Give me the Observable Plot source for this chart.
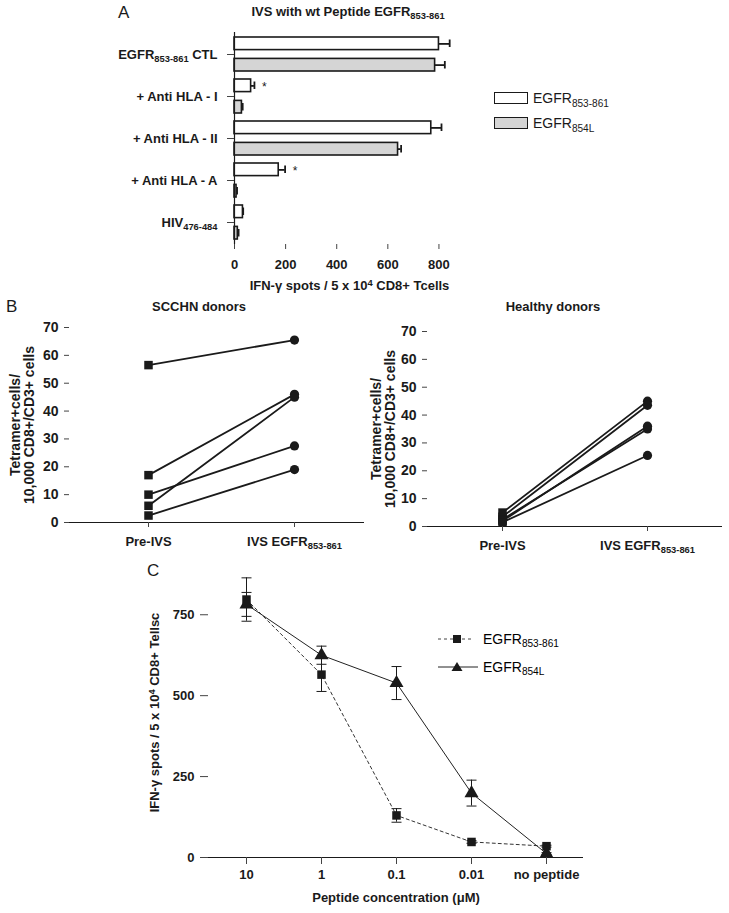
<!DOCTYPE html>
<html><head><meta charset="utf-8">
<script src="https://cdn.jsdelivr.net/npm/d3@7"></script>
<script src="https://cdn.jsdelivr.net/npm/@observablehq/plot@0.6"></script>
<style>
body{margin:0;background:#fff;}
#fig{position:relative;width:729px;height:913px;overflow:hidden;font-family:"Liberation Sans",Arial,Helvetica,sans-serif;color:#1a1a1a;}
#fig > *{position:absolute;}
.plab{font-size:17px;font-weight:normal;}
.title{font-size:13px;font-weight:bold;text-align:center;width:300px;white-space:nowrap;}
sub{font-size:0.72em;vertical-align:-0.35em;line-height:0;}
</style></head><body><div id="fig"></div>
<script>
// ---------- Panel A data ----------
const catsA = ["EGFR_{853-861} CTL", "+ Anti HLA - I", "+ Anti HLA - II", "+ Anti HLA - A", "HIV_{476-484}"];
const wtVals = [800, 65, 770, 173, 33];
const wtErr  = [42, 13, 40, 25, 1];
const mutVals = [785, 29, 640, 8, 13];
const mutErr  = [38, 3, 12, 2, 3];
const sigA = [false, true, false, true, false];
const ticksA = [0, 200, 400, 600, 800];

// ---------- Panel B data ----------
const stagesB = ["Pre-IVS", "IVS EGFR_{853-861}"];
const sccPre  = [56.5, 17, 10, 6, 2.5];
const sccPost = [65.5, 46, 27.5, 45, 19];
const hlthPre  = [5, 3.5, 2.5, 2, 1.5];
const hlthPost = [45, 43.5, 35, 36, 25.5];
const ticksB = [0, 10, 20, 30, 40, 50, 60, 70];

// ---------- Panel C data ----------
const concC = ["10", "1", "0.1", "0.01", "no peptide"];
const wtC    = [797, 565, 130, 48, 35];
const wtCErr = [67, 52, 21, 4, 3];
const mutC    = [782, 625, 539, 199, 12];
const mutCErr = [37, 28, 51, 40, 3];
const ticksC = [0, 250, 500, 750];

const INK = "#1a1a1a";
const FONT = "Liberation Sans, Arial, Helvetica, sans-serif";
const fig = document.getElementById("fig");

function subify(root){
  const walker = document.createTreeWalker(root, NodeFilter.SHOW_TEXT);
  const nodes = []; while (walker.nextNode()) nodes.push(walker.currentNode);
  for (const n of nodes) {
    const s = n.nodeValue; if (!/[_^]\{/.test(s)) continue;
    const frag = document.createDocumentFragment();
    const re = /([_^])\{([^}]*)\}/g; let last = 0, m;
    while ((m = re.exec(s))) {
      if (m.index > last) frag.appendChild(document.createTextNode(s.slice(last, m.index)));
      const t = document.createElementNS("http://www.w3.org/2000/svg", "tspan");
      t.setAttribute("font-size", "0.72em");
      t.setAttribute("baseline-shift", m[1] === "_" ? "-30%" : "40%");
      t.textContent = m[2]; frag.appendChild(t); last = re.lastIndex;
    }
    if (last < s.length) frag.appendChild(document.createTextNode(s.slice(last)));
    n.parentNode.replaceChild(frag, n);
  }
}
function place(el, left, top){ el.style.left = left + "px"; el.style.top = top + "px"; subify(el); fig.appendChild(el); }
function html(str, left, top, cls, extra){ const d = document.createElement("div"); d.className = cls || ""; d.innerHTML = str; if (extra) Object.assign(d.style, extra); d.style.left = left + "px"; d.style.top = top + "px"; fig.appendChild(d); return d; }
const style = {fontFamily: FONT, fontSize: "13px", fontWeight: "bold", color: INK, background: "transparent", overflow: "visible"};
// horizontal cap symbol for error bars
const capSymbol = {draw(ctx){ ctx.moveTo(-5, 0); ctx.lineTo(5, 0); }};

// ---------- Panel A ----------
const rowsA = catsA.map((c, i) => ({cat: c, wt: wtVals[i], wtE: wtErr[i], mut: mutVals[i], mutE: mutErr[i], sig: sigA[i]}));
const plotA = Plot.plot({
  width: 480, height: 300, marginLeft: 234, marginRight: 16, marginTop: 32, marginBottom: 56,
  style,
  x: {domain: [0, 900]},
  y: {domain: catsA, padding: 0},
  marks: [
    Plot.barX(rowsA, {y: "cat", x: "wt", fill: "#fff", stroke: INK, strokeWidth: 1.6, insetTop: 4, insetBottom: 25.4}),
    Plot.barX(rowsA, {y: "cat", x: "mut", fill: "#d5d5d5", stroke: INK, strokeWidth: 1.6, insetTop: 25.4, insetBottom: 4}),
    Plot.ruleY(rowsA, {y: "cat", x1: "wt", x2: d => d.wt + d.wtE, dy: -10.6, stroke: INK, strokeWidth: 1.8}),
    Plot.tickX(rowsA, {y: "cat", x: d => d.wt + d.wtE, insetTop: 6.5, insetBottom: 28, stroke: INK, strokeWidth: 1.8}),
    Plot.ruleY(rowsA, {y: "cat", x1: "mut", x2: d => d.mut + d.mutE, dy: 10.6, stroke: INK, strokeWidth: 1.8}),
    Plot.tickX(rowsA, {y: "cat", x: d => d.mut + d.mutE, insetTop: 28, insetBottom: 6.5, stroke: INK, strokeWidth: 1.8}),
    Plot.text(rowsA.filter(d => d.sig), {y: "cat", x: d => d.wt + d.wtE, text: () => "*", dx: 10, dy: -9, fontSize: 12, fontWeight: "normal", fill: INK}),
    Plot.ruleX([0], {stroke: INK, strokeWidth: 1.2}),
    Plot.axisY({tickSize: 7, tickPadding: 10, label: null, stroke: "#444"}),
    Plot.axisX({ticks: ticksA, tickSize: 5, tickPadding: 10, line: true, stroke: "#444",
      label: "IFN-γ spots / 5 x 10^{4} CD8+ Tcells", labelAnchor: "center", labelOffset: 45, labelArrow: "none"})
  ]
});
place(plotA, 0, 0);
html("A", 118, 3, "plab");
html("IVS with wt Peptide EGFR<sub>853-861</sub>", 348 - 150, 4, "title");
// legend A
html(`<div style="display:flex;align-items:center;gap:5px;font-size:14px;height:14px"><span style="display:inline-block;width:32px;height:10px;border:1.6px solid ${INK};background:#fff"></span><span>EGFR<sub>853-861</sub></span></div>
<div style="display:flex;align-items:center;gap:5px;font-size:14px;height:14px;margin-top:11px"><span style="display:inline-block;width:32px;height:10px;border:1.6px solid ${INK};background:#d5d5d5"></span><span>EGFR<sub>854L</sub></span></div>`, 494, 91, "");

// ---------- Panel B ----------
function panelB(pre, post, opts){
  const rows = [];
  pre.forEach((v, i) => { rows.push({donor: i, stage: stagesB[0], v}); rows.push({donor: i, stage: stagesB[1], v: post[i]}); });
  return Plot.plot({
    width: opts.width, height: 265, marginLeft: opts.ml, marginRight: opts.mr, marginTop: opts.mt, marginBottom: opts.mb,
    style,
    x: {type: "point", domain: stagesB, range: opts.range, padding: 0},
    y: {domain: [0, 70]},
    marks: [
      Plot.ruleY([0], {stroke: INK, strokeWidth: 1.2}),
      Plot.line(rows, {x: "stage", y: "v", z: "donor", stroke: INK, strokeWidth: 1.8}),
      Plot.dot(rows.filter(d => d.stage === stagesB[0]), {x: "stage", y: "v", symbol: "square", r: 4.8, fill: INK}),
      Plot.dot(rows.filter(d => d.stage === stagesB[1]), {x: "stage", y: "v", symbol: "circle", r: 4.6, fill: INK}),
      Plot.axisY({ticks: ticksB, tickSize: 5, tickPadding: 6, line: true, stroke: "#444", fontSize: 14,
        label: "Tetramer+cells/\n10,000 CD8+/CD3+ cells", labelAnchor: "center", labelOffset: opts.lo, labelArrow: "none"}),
      Plot.axisX({tickSize: 5, tickPadding: 9, label: null, stroke: "#444"})
    ]
  });
}
place(panelB(sccPre, sccPost, {width: 364, ml: 69, mr: 0, mt: 37, mb: 33, range: [147.7, 294.3], lo: 59}), 0, 290);
place(panelB(hlthPre, hlthPost, {width: 365, ml: 63, mr: 7, mt: 41, mb: 29, range: [137.7, 283], lo: 56}), 364, 290);
html("B", 6, 297, "plab");
html("SCCHN donors", 199 - 150, 299, "title");
html("Healthy donors", 553 - 150, 299, "title");

// ---------- Panel C ----------
const rowsC = [];
concC.forEach((c, i) => {
  rowsC.push({conc: c, s: "wt", v: wtC[i], e: wtCErr[i]});
  rowsC.push({conc: c, s: "mut", v: mutC[i], e: mutCErr[i]});
});
const wtRows = rowsC.filter(d => d.s === "wt"), mutRows = rowsC.filter(d => d.s === "mut");
const plotC = Plot.plot({
  width: 729, height: 353, marginLeft: 208, marginRight: 146, marginTop: 7, marginBottom: 56,
  style,
  x: {type: "point", domain: concC, padding: 0.5},
  y: {domain: [0, 896]},
  marks: [
    Plot.ruleY([0], {stroke: INK, strokeWidth: 1.2}),
    Plot.ruleX(rowsC, {x: "conc", y1: d => d.v - d.e, y2: d => d.v + d.e, stroke: INK, strokeWidth: 1}),
    Plot.dot(rowsC, {x: "conc", y: d => d.v + d.e, symbol: capSymbol, fill: "none", stroke: INK, strokeWidth: 1}),
    Plot.dot(rowsC, {x: "conc", y: d => d.v - d.e, symbol: capSymbol, fill: "none", stroke: INK, strokeWidth: 1}),
    Plot.line(wtRows, {x: "conc", y: "v", stroke: "#333", strokeWidth: 1, strokeDasharray: "3,3"}),
    Plot.line(mutRows, {x: "conc", y: "v", stroke: "#222", strokeWidth: 1}),
    Plot.dot(wtRows, {x: "conc", y: "v", symbol: "square", r: 4.8, fill: INK}),
    Plot.dot(mutRows, {x: "conc", y: "v", symbol: "triangle", r: 5.2, fill: INK}),
    Plot.axisY({ticks: ticksC, tickSize: 8, tickPadding: 6, line: true, stroke: "#444",
      label: "IFN-γ spots / 5 x 10^{4} CD8+ Tellsc", labelAnchor: "center", labelOffset: 59, labelArrow: "none"}),
    Plot.axisX({tickSize: 7, tickPadding: 5, stroke: "#444",
      label: "Peptide concentration (μM)", labelAnchor: "center", labelOffset: 44, labelArrow: "none"})
  ]
});
place(plotC, 0, 560);
html("C", 147, 561, "plab");
// legend C
html(`<svg width="160" height="50" style="overflow:visible;font-family:${FONT}">
 <line x1="0" x2="36" y1="9" y2="9" stroke="#444" stroke-dasharray="3,3"/><rect x="15" y="5" width="8" height="8" fill="${INK}"/>
 <text x="45" y="14" font-size="14">EGFR<tspan font-size="0.72em" baseline-shift="-30%">853-861</tspan></text>
 <line x1="0" x2="40" y1="37" y2="37" stroke="#222"/><path d="M19,32 L24.5,41 L13.5,41 Z" fill="${INK}"/>
 <text x="45" y="42" font-size="14">EGFR<tspan font-size="0.72em" baseline-shift="-30%">854L</tspan></text>
</svg>`, 438, 630, "");
</script></body></html>
